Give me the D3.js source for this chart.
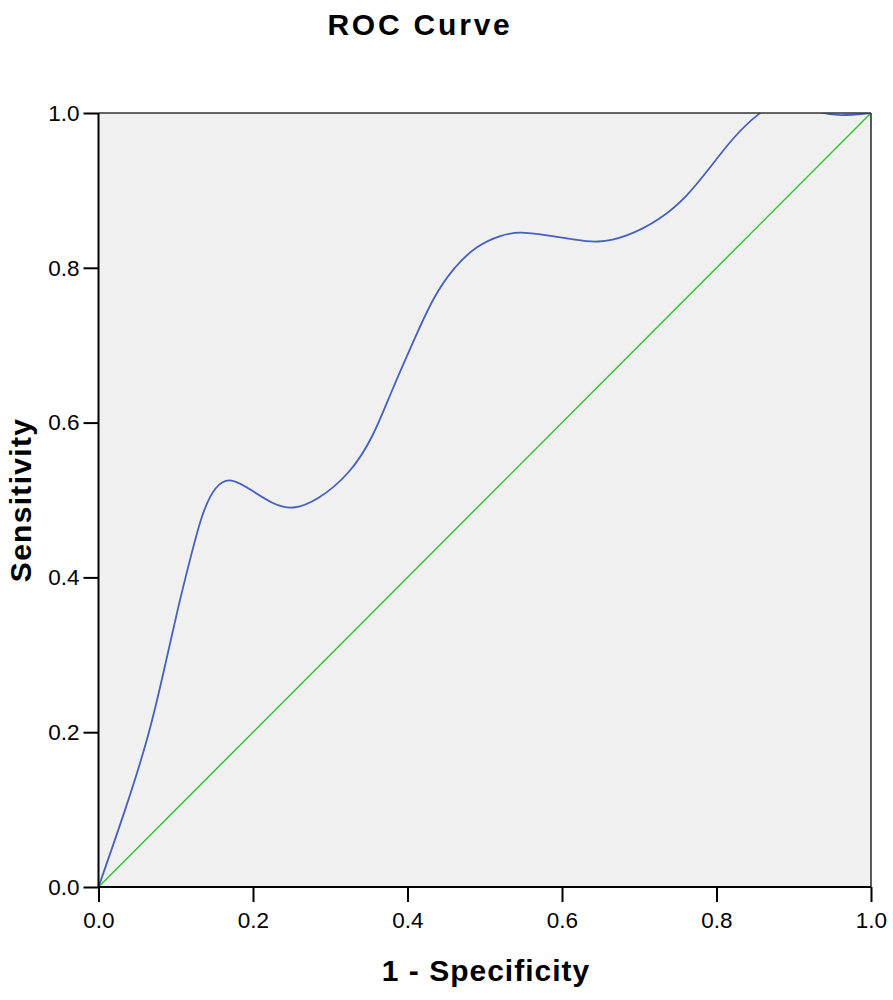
<!DOCTYPE html>
<html><head><meta charset="utf-8">
<script src="https://cdn.jsdelivr.net/npm/d3@7"></script>
<style>body{margin:0;background:#fff}svg{display:block}</style>
</head><body>
<svg id="c" width="893" height="1000"></svg>
<script>
const rocX = [0,0.035,0.065,0.086,0.103,0.1205,0.134,0.151,0.171,0.199,0.225,0.251,0.283,0.326,0.356,0.378,0.412,0.434,0.460,0.490,0.520,0.545,0.580,0.619,0.645,0.684,0.727,0.762,0.792,0.822,0.854,0.89,0.93,0.96,1.0];
const rocY = [0,0.100,0.194,0.285,0.362,0.431,0.483,0.519,0.530,0.512,0.495,0.487,0.499,0.534,0.582,0.638,0.715,0.763,0.801,0.829,0.842,0.847,0.842,0.836,0.832,0.840,0.862,0.892,0.930,0.969,1.0,1.022,1.0,0.996,1.0];
const refX = [0,1];
const refY = [0,1];
const tickVals = [0,0.2,0.4,0.6,0.8,1.0];
const titleText = "ROC Curve";
const xLabel = "1 - Specificity";
const yLabel = "Sensitivity";

const svg = d3.select("#c");
const L=98.5, R=871, T=113, B=887;
const x = d3.scaleLinear().domain([0,1]).range([L,R]);
const y = d3.scaleLinear().domain([0,1]).range([B,T]);
const font = "'Liberation Sans', Arial, sans-serif";

svg.append("defs").append("clipPath").attr("id","clip")
  .append("rect").attr("x",L).attr("y",T).attr("width",R-L).attr("height",B-T);

svg.append("rect").attr("x",L).attr("y",T).attr("width",R-L).attr("height",B-T).attr("fill","#f0f0f0");

const g = svg.append("g").attr("clip-path","url(#clip)");
g.append("path").datum(refX.map((v,i)=>[v,refY[i]]))
  .attr("d",d3.line().x(d=>x(d[0])).y(d=>y(d[1])))
  .attr("fill","none").attr("stroke","#2ec82e").attr("stroke-width",1.5);
g.append("path").datum(rocX.map((v,i)=>[v,rocY[i]]))
  .attr("d",d3.line().x(d=>x(d[0])).y(d=>y(d[1])).curve(d3.curveBasis))
  .attr("fill","none").attr("stroke","#4560bd").attr("stroke-width",1.8);

// frame top/right
svg.append("line").attr("x1",L).attr("x2",R).attr("y1",T).attr("y2",T).attr("stroke","#333").attr("stroke-width",1.6);
svg.append("line").attr("x1",R).attr("x2",R).attr("y1",T).attr("y2",B).attr("stroke","#333").attr("stroke-width",1.6);

const xa = svg.append("g").attr("transform",`translate(0,${B})`)
  .call(d3.axisBottom(x).tickValues(tickVals).tickFormat(d3.format(".1f")).tickSize(15).tickPadding(10));
const ya = svg.append("g").attr("transform",`translate(${L},0)`)
  .call(d3.axisLeft(y).tickValues(tickVals).tickFormat(d3.format(".1f")).tickSize(15).tickPadding(4));
[xa,ya].forEach(a=>{
  a.select(".domain").attr("stroke","#000").attr("stroke-width",2);
  a.selectAll(".tick line").attr("stroke","#000").attr("stroke-width",2);
  a.selectAll(".tick text").attr("font-family",font).attr("font-size",22.5).attr("fill","#000");
});
xa.selectAll(".domain").attr("d",`M${L},0H${R}`);
ya.selectAll(".domain").attr("d",`M0,${T}V${B}`);

svg.append("text").attr("x",420).attr("y",35).attr("text-anchor","middle")
  .attr("font-family",font).attr("font-weight","bold").attr("font-size",30).attr("letter-spacing",2.8)
  .text(titleText);
svg.append("text").attr("x",486).attr("y",981).attr("text-anchor","middle")
  .attr("font-family",font).attr("font-weight","bold").attr("font-size",30).attr("letter-spacing",1)
  .text(xLabel);
svg.append("text").attr("transform","translate(31,500) rotate(-90)").attr("text-anchor","middle")
  .attr("font-family",font).attr("font-weight","bold").attr("font-size",30).attr("letter-spacing",1.3)
  .text(yLabel);
</script>
</body></html>
